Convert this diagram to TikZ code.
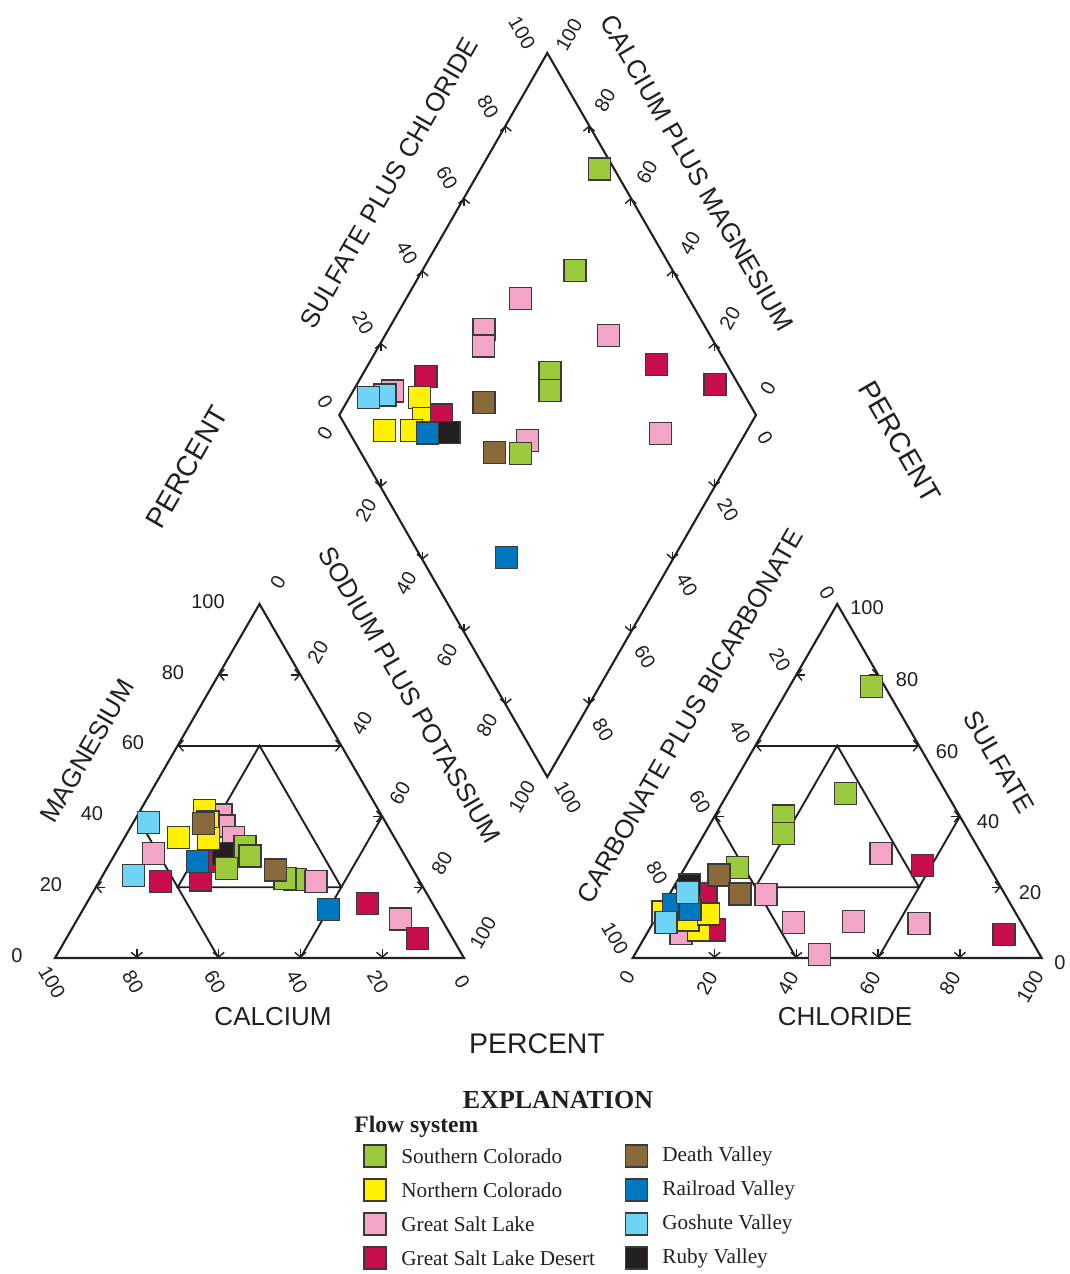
\documentclass[tikz,border=0pt]{standalone}
\usepackage{fontspec}
\setmainfont{Liberation Serif}
\newfontfamily\arialf{Liberation Sans}
\usetikzlibrary{calc,arrows.meta}
\definecolor{cgreen}{HTML}{9BCA3C}
\definecolor{cyellow}{HTML}{FFF100}
\definecolor{cpink}{HTML}{F3A5C8}
\definecolor{ccrim}{HTML}{C70D4B}
\definecolor{cbrown}{HTML}{8A6A3A}
\definecolor{cblue}{HTML}{0078C0}
\definecolor{clblue}{HTML}{6FD3F6}
\definecolor{cblack}{HTML}{231F20}
\definecolor{ink}{HTML}{231F20}
\definecolor{sqline}{HTML}{3A3A3A}
\tikzset{
 ln/.style={draw=ink, line width=0.95pt},
 edgeline/.style={draw=ink, line width=1.05pt, line join=miter},
 tk/.style={draw=ink, line width=0.7pt, -{Straight Barb[length=2.4pt,width=5.6pt]}},
 sq/.style={draw=sqline, line width=0.75pt, minimum size=11pt, inner sep=0pt, outer sep=0pt},
 num/.style={font=\arialf\fontsize{10}{12}\selectfont, text=ink, inner sep=0pt},
 ttl/.style={font=\arialf\fontsize{13}{15}\selectfont, text=ink, inner sep=0pt},
 pct/.style={font=\arialf\fontsize{14.2}{16}\selectfont, text=ink, inner sep=0pt},
 lg/.style={font=\fontsize{10.6}{12}\selectfont, text=ink, anchor=west, inner sep=0pt},
}
\begin{document}
\begin{tikzpicture}[x=0.5pt,y=-0.5pt]
\useasboundingbox (0,0) rectangle (1070,1274);
% ---------- frames ----------
\coordinate (LA) at (55,958); \coordinate (LB) at (464,958); \coordinate (LC) at (259.5,604);
\coordinate (RA) at (632.7,958); \coordinate (RB) at (1041.7,958); \coordinate (RC) at (837.2,604);
\coordinate (DT) at (547.3,53); \coordinate (DL) at (339.3,415); \coordinate (DR) at (756,415); \coordinate (DB) at (547.3,777);
\draw[edgeline] (LA) -- (LB) -- (LC) -- cycle;
\draw[edgeline] (RA) -- (RB) -- (RC) -- cycle;
\draw[edgeline] (DL) -- (DT) -- (DR) -- (DB) -- cycle;
% ---------- cation subdivisions ----------
\draw[ln] (barycentric cs:LA=.4,LC=.6) -- (barycentric cs:LB=.4,LC=.6);
\draw[ln] (barycentric cs:LA=.6,LC=.4) -- (barycentric cs:LA=.6,LB=.4);
\draw[ln] (barycentric cs:LB=.6,LC=.4) -- (barycentric cs:LA=.4,LB=.6);
\draw[ln] (barycentric cs:LA=.6,LB=.2,LC=.2) -- (barycentric cs:LA=.2,LB=.2,LC=.6) -- (barycentric cs:LA=.2,LB=.6,LC=.2) -- cycle;
% ---------- anion subdivisions ----------
\draw[ln] (barycentric cs:RA=.4,RC=.6) -- (barycentric cs:RB=.4,RC=.6);
\draw[ln] (barycentric cs:RA=.6,RC=.4) -- (barycentric cs:RA=.6,RB=.4);
\draw[ln] (barycentric cs:RB=.6,RC=.4) -- (barycentric cs:RA=.4,RB=.6);
\draw[ln] (barycentric cs:RA=.6,RB=.2,RC=.2) -- (barycentric cs:RA=.2,RB=.2,RC=.6) -- (barycentric cs:RA=.2,RB=.6,RC=.2) -- cycle;
% ---------- ticks ----------
\foreach \f in {0.2,0.4,0.6,0.8}{
  \coordinate (t1) at ($(LA)!\f!(LC)$); \draw[tk] ($(t1)+(9,0)$) -- (t1);
  \coordinate (t2) at ($(LB)!\f!(LC)$); \draw[tk] ($(t2)+(-9,0)$) -- (t2);
  \coordinate (t3) at ($(LA)!\f!(LB)$); \draw[tk] ($(t3)+(0,-9)$) -- (t3);
  \coordinate (t4) at ($(RA)!\f!(RC)$); \draw[tk] ($(t4)+(9,0)$) -- (t4);
  \coordinate (t5) at ($(RB)!\f!(RC)$); \draw[tk] ($(t5)+(-9,0)$) -- (t5);
  \coordinate (t6) at ($(RA)!\f!(RB)$); \draw[tk] ($(t6)+(0,-9)$) -- (t6);
  \coordinate (t7) at ($(DL)!\f!(DT)$); \draw[tk] ($(t7)+(0,8)$) -- (t7);
  \coordinate (t8) at ($(DR)!\f!(DT)$); \draw[tk] ($(t8)+(0,8)$) -- (t8);
  \coordinate (t9) at ($(DL)!\f!(DB)$); \draw[tk] ($(t9)+(0,-8)$) -- (t9);
  \coordinate (t10) at ($(DR)!\f!(DB)$); \draw[tk] ($(t10)+(0,-8)$) -- (t10);
}
% ---------- scale numbers: cation triangle ----------
\foreach \t/\x/\y [count=\i] in {100/208/601.5,80/173/672.5,60/133/742.5,40/92/814,20/51/885,0/17/956}
  \node[num] (lml\i) at (\x,\y) {\t};
\foreach \t/\x/\y [count=\i] in {0/278/582,20/318/652,40/362/723,60/400/793,80/442/863,100/483/933}
  \node[num, rotate=60] (lnl\i) at (\x,\y) {\t};
\foreach \t/\x/\y [count=\i] in {100/52/982,80/133/982,60/215/982,40/297/982,20/378/982,0/462/982}
  \node[num, rotate=-60] (lcl\i) at (\x,\y) {\t};
% ---------- scale numbers: anion triangle ----------
\foreach \t/\x/\y [count=\i] in {0/827/593,20/780/660,40/740/732,60/700/802,80/657/873,100/615/938}
  \node[num, rotate=-60] (rcl\i) at (\x,\y) {\t};
\foreach \t/\x/\y [count=\i] in {0/627/977,20/707/983,40/788/983,60/870/983,80/950/983,100/1030/987}
  \node[num, rotate=60] (rbl\i) at (\x,\y) {\t};
\foreach \t/\x/\y [count=\i] in {100/867/608,80/907/680,60/947/752,40/988/822,20/1030/893,0/1060/963}
  \node[num] (rsl\i) at (\x,\y) {\t};
% ---------- scale numbers: diamond ----------
\foreach \t/\x/\y [count=\i] in {100/522/33,80/488/107,60/447/178,40/407/253,20/363/323,0/325/402}
  \node[num, rotate=-60] (dul\i) at (\x,\y) {\t};
\foreach \t/\x/\y [count=\i] in {100/569/35,80/605/100,60/647/172,40/690/243,20/730/318,0/768/388}
  \node[num, rotate=60] (dur\i) at (\x,\y) {\t};
\foreach \t/\x/\y [count=\i] in {0/325/433,20/366/510,40/406/583,60/447/655,80/487/725,100/522/797}
  \node[num, rotate=60] (dll\i) at (\x,\y) {\t};
\foreach \t/\x/\y [count=\i] in {0/765/438,20/728/510,40/687/585,60/645/657,80/603/730,100/568/797}
  \node[num, rotate=-60] (dlr\i) at (\x,\y) {\t};
% ---------- axis titles ----------
\node[ttl, rotate=60] (tmg) at (87,751) {MAGNESIUM};
\node[ttl, rotate=-60] (tna) at (410,695) {SODIUM PLUS POTASSIUM};
\node[ttl] (tca) at (273,1017) {CALCIUM};
\node[ttl] (tcl) at (845,1017) {CHLORIDE};
\node[ttl, rotate=-60] (tso) at (999,762) {SULFATE};
\node[ttl, rotate=60] (tco) at (690,716) {CARBONATE PLUS BICARBONATE};
\node[ttl, rotate=60] (tsc) at (389,183) {SULFATE PLUS CHLORIDE};
\node[ttl, rotate=-60] (tcm) at (697,173) {CALCIUM PLUS MAGNESIUM};
\node[pct, rotate=60] (pc1) at (187,467) {PERCENT};
\node[pct, rotate=-60] (pc2) at (900,442) {PERCENT};
\node[pct] (pc3) at (537,1044) {PERCENT};
% ---------- data: diamond ----------
\foreach \c/\x/\y [count=\i] in {
 cgreen/599.3/169, cgreen/575/270.7, cpink/520.3/298.3, cpink/484/329.3, cpink/483.3/346,
 cpink/608.3/335.7, ccrim/656.7/364.3, ccrim/715/384.3, cgreen/550/372.7, cgreen/550/390.7,
 cbrown/484/402.3, cpink/660.7/433.3, cpink/527.3/440.7, cbrown/494.3/452.7, cgreen/520.3/453.3,
 cblue/506.7/557.3, cpink/392.7/391, clblue/385/395, clblue/368.3/397.3, ccrim/426/376.7,
 cyellow/419.3/397.3, cyellow/384.3/430.7, cyellow/423.3/418.3, ccrim/441.7/415, cyellow/411.7/430.7,
 cblack/449/432.3, cblue/427.3/433}
  \node[sq, fill=\c] (dd\i) at (\x,\y) {};
% ---------- data: cation triangle ----------
\foreach \c/\x/\y [count=\i] in {
 clblue/148.3/822.3, cpink/153.3/853.3, clblue/133.3/875.7, ccrim/160.5/881.7, cyellow/178.3/837.7,
 cpink/221/815, cpink/224/826, cpink/233.3/837.7, cyellow/204.7/810.7, cyellow/208/822,
 ccrim/200.5/880, ccrim/206.7/861.7, cblack/223.3/853.3, cyellow/208.3/838.3, cbrown/203.3/823.3,
 cblue/197.3/861.7, cgreen/245/846.7, cgreen/250/856, cgreen/226.7/868.3, cgreen/295/879.3,
 cgreen/285/878.3, cbrown/275.7/870, cpink/316/881.7, cblue/328.3/909.3, ccrim/367.5/903.3,
 cpink/400.7/919, ccrim/417.3/938.3}
  \node[sq, fill=\c] (dc\i) at (\x,\y) {};
% ---------- data: anion triangle ----------
\foreach \c/\x/\y [count=\i] in {
 cgreen/871.3/686.7, cgreen/845.3/793.3, cgreen/783.3/816, cgreen/783.3/833.3, cpink/881/853.3,
 ccrim/922.3/865.7, cpink/766/894.3, cpink/793.3/922.7, cpink/853.3/921.7, cpink/919/923.3,
 ccrim/1004/934.3, cpink/819.3/954.3, cpink/681/933.3, ccrim/714.3/930, cyellow/698.3/930,
 cyellow/688/920, cyellow/663/912, ccrim/706/893.3, cblack/689.3/885, cyellow/708.3/914,
 cblue/673.3/904.3, cblue/690/909.3, clblue/687.7/892.3, clblue/666/922.7, cgreen/737.3/867.7,
 cbrown/719/875, cbrown/740/894}
  \node[sq, fill=\c] (da\i) at (\x,\y) {};
% ---------- legend ----------
\node[font=\bfseries\fontsize{13}{15}\selectfont, text=ink, inner sep=0pt] (expl) at (558,1100) {EXPLANATION};
\node[font=\bfseries\fontsize{11.8}{14}\selectfont, text=ink, anchor=west, inner sep=0pt] (flow) at (354,1127) {Flow system};
\foreach \c/\t/\y [count=\i] in {cgreen/Southern Colorado/1156, cyellow/Northern Colorado/1190,
  cpink/Great Salt Lake/1224, ccrim/Great Salt Lake Desert/1258}{
  \node[sq, fill=\c] (ls\i) at (375,\y) {};
  \node[lg] (lt\i) at (401,\y) {\t};
}
\foreach \c/\t/\y [count=\i] in {cbrown/Death Valley/1156, cblue/Railroad Valley/1190,
  clblue/Goshute Valley/1224, cblack/Ruby Valley/1258}{
  \node[sq, fill=\c] (ms\i) at (636.5,\y) {};
  \node[lg] (mt\i) at (662,\y) {\t};
}
\end{tikzpicture}
\end{document}
